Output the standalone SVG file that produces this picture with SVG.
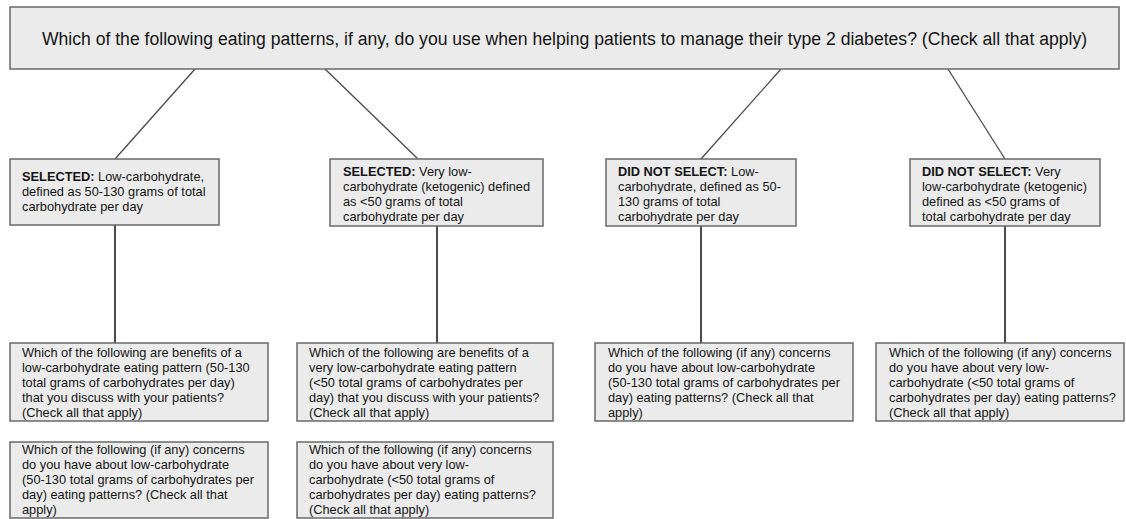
<svg xmlns="http://www.w3.org/2000/svg" width="1126" height="519" viewBox="0 0 1126 519">
<style>
.box{fill:#ebebeb;stroke:#6a6a6a;stroke-width:1.5}
.t{font-family:"Liberation Sans",Arial,sans-serif;font-size:12.8px;fill:#151515}
.top{font-family:"Liberation Sans",Arial,sans-serif;font-size:17.6px;fill:#151515}
.b{font-weight:bold}
.diag{stroke:#4a4a4a;stroke-width:1.3;fill:none}
.vert{stroke:#111;stroke-width:1.5;fill:none}
</style>
<rect width="1126" height="519" fill="#fff"/>
<g id="connectors">
<line class="diag" x1="195" y1="69" x2="115" y2="159"/>
<line class="diag" x1="325" y1="69" x2="418" y2="159"/>
<line class="diag" x1="781" y1="69" x2="701" y2="159"/>
<line class="diag" x1="948" y1="69" x2="1005" y2="159"/>
<line class="vert" x1="115" y1="225" x2="115" y2="343"/>
<line class="vert" x1="437" y1="226" x2="437" y2="343"/>
<line class="vert" x1="701" y1="226" x2="701" y2="343"/>
<line class="vert" x1="1005" y1="226" x2="1005" y2="343"/>
</g>
<g id="top">
<rect class="box" x="10" y="7" width="1109" height="62"/>
<text class="top" x="564.5" y="45" text-anchor="middle">Which of the following eating patterns, if any, do you use when helping patients to manage their type 2 diabetes? (Check all that apply)</text>
</g>
<g id="selLow">
<rect class="box" x="10" y="159" width="209" height="66"/>
<text class="t" x="22" y="181"><tspan class="b">SELECTED:</tspan> Low-carbohydrate,</text>
<text class="t" x="22" y="196">defined as 50-130 grams of total</text>
<text class="t" x="22" y="211">carbohydrate per day</text>
</g>
<g id="selVeryLow">
<rect class="box" x="330" y="159" width="213" height="67"/>
<text class="t" x="343" y="176"><tspan class="b">SELECTED:</tspan> Very low-</text>
<text class="t" x="343" y="191">carbohydrate (ketogenic) defined</text>
<text class="t" x="343" y="206">as &lt;50 grams of total</text>
<text class="t" x="343" y="221">carbohydrate per day</text>
</g>
<g id="notSelLow">
<rect class="box" x="606" y="159" width="190" height="67"/>
<text class="t" x="618" y="176"><tspan class="b">DID NOT SELECT:</tspan> Low-</text>
<text class="t" x="618" y="191">carbohydrate, defined as 50-</text>
<text class="t" x="618" y="206">130 grams of total</text>
<text class="t" x="618" y="221">carbohydrate per day</text>
</g>
<g id="notSelVeryLow">
<rect class="box" x="910" y="159" width="190" height="67"/>
<text class="t" x="922" y="176"><tspan class="b">DID NOT SELECT:</tspan> Very</text>
<text class="t" x="922" y="191">low-carbohydrate (ketogenic)</text>
<text class="t" x="922" y="206">defined as &lt;50 grams of</text>
<text class="t" x="922" y="221">total carbohydrate per day</text>
</g>
<g id="benefitsLow">
<rect class="box" x="10" y="343" width="258" height="78"/>
<text class="t" x="22" y="357">Which of the following are benefits of a</text>
<text class="t" x="22" y="372">low-carbohydrate eating pattern (50-130</text>
<text class="t" x="22" y="387">total grams of carbohydrates per day)</text>
<text class="t" x="22" y="402">that you discuss with your patients?</text>
<text class="t" x="22" y="417">(Check all that apply)</text>
</g>
<g id="concernsLow">
<rect class="box" x="10" y="442" width="258" height="76"/>
<text class="t" x="22" y="454">Which of the following (if any) concerns</text>
<text class="t" x="22" y="469">do you have about low-carbohydrate</text>
<text class="t" x="22" y="484">(50-130 total grams of carbohydrates per</text>
<text class="t" x="22" y="499">day) eating patterns? (Check all that</text>
<text class="t" x="22" y="514">apply)</text>
</g>
<g id="benefitsVeryLow">
<rect class="box" x="297" y="343" width="256" height="78"/>
<text class="t" x="309" y="357">Which of the following are benefits of a</text>
<text class="t" x="309" y="372">very low-carbohydrate eating pattern</text>
<text class="t" x="309" y="387">(&lt;50 total grams of carbohydrates per</text>
<text class="t" x="309" y="402">day) that you discuss with your patients?</text>
<text class="t" x="309" y="417">(Check all that apply)</text>
</g>
<g id="concernsVeryLow">
<rect class="box" x="297" y="442" width="256" height="76"/>
<text class="t" x="309" y="454">Which of the following (if any) concerns</text>
<text class="t" x="309" y="469">do you have about very low-</text>
<text class="t" x="309" y="484">carbohydrate (&lt;50 total grams of</text>
<text class="t" x="309" y="499">carbohydrates per day) eating patterns?</text>
<text class="t" x="309" y="514">(Check all that apply)</text>
</g>
<g id="concernsLowNS">
<rect class="box" x="595" y="343" width="258" height="78"/>
<text class="t" x="608" y="357">Which of the following (if any) concerns</text>
<text class="t" x="608" y="372">do you have about low-carbohydrate</text>
<text class="t" x="608" y="387">(50-130 total grams of carbohydrates per</text>
<text class="t" x="608" y="402">day) eating patterns? (Check all that</text>
<text class="t" x="608" y="417">apply)</text>
</g>
<g id="concernsVeryLowNS">
<rect class="box" x="876" y="343" width="248" height="78"/>
<text class="t" x="889" y="357">Which of the following (if any) concerns</text>
<text class="t" x="889" y="372">do you have about very low-</text>
<text class="t" x="889" y="387">carbohydrate (&lt;50 total grams of</text>
<text class="t" x="889" y="402">carbohydrates per day) eating patterns?</text>
<text class="t" x="889" y="417">(Check all that apply)</text>
</g>
</svg>
